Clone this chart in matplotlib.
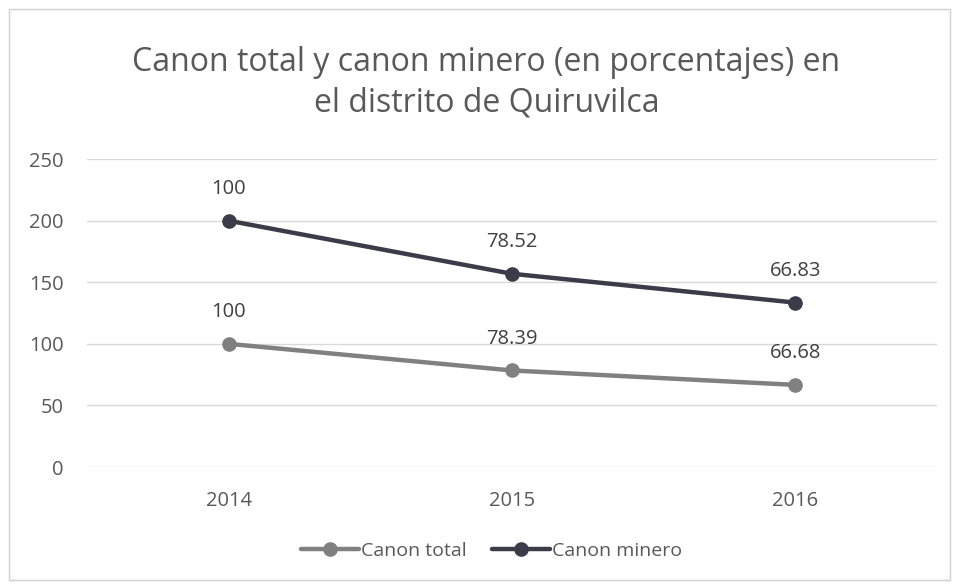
import numpy as np
import matplotlib.pyplot as plt
from matplotlib.patches import Rectangle

years = ["2014", "2015", "2016"]
canon_total = [100, 78.39, 66.68]
canon_minero = [100, 78.52, 66.83]
yticks = [0, 50, 100, 150, 200, 250]

plt.rcParams['font.family'] = ['Open Sans', 'DejaVu Sans']

fig = plt.figure(figsize=(9.54, 5.85), dpi=100)
fig.patches.append(Rectangle((0.009, 0.008), 0.987, 0.976, transform=fig.transFigure,
                             fill=False, edgecolor='#d0d0d0', linewidth=1))
ax = fig.add_axes([0.0912, 0.2017, 0.8908, 0.5263])

x = np.arange(len(years))
# stacked line chart: minero sits on top of total
stacked = np.array(canon_total) + np.array(canon_minero)

c_total = '#808080'
c_minero = '#3b3b4a'
ax.plot(x, canon_total, color=c_total, lw=3.2, marker='o', ms=9.5, label='Canon total',
        solid_capstyle='round', zorder=3)
ax.plot(x, stacked, color=c_minero, lw=3.2, marker='o', ms=9.5, label='Canon minero',
        solid_capstyle='round', zorder=3)

for xi, yv, lab in zip(x, canon_total, canon_total):
    ax.annotate(f"{lab:g}", (xi, yv), xytext=(0, 23), textcoords='offset points',
                ha='center', va='center', fontsize=14.5, color='#404040')
for xi, yv, lab in zip(x, stacked, canon_minero):
    ax.annotate(f"{lab:g}", (xi, yv), xytext=(0, 23), textcoords='offset points',
                ha='center', va='center', fontsize=14.5, color='#404040')

ax.set_xlim(-0.5, 2.5)
ax.set_ylim(0, 250)
ax.set_yticks(yticks)
ax.set_xticks(x)
ax.set_xticklabels(years)
ax.tick_params(axis='both', length=0, labelsize=14.5, labelcolor='#595959')
ax.tick_params(axis='y', pad=17)
ax.tick_params(axis='x', pad=17)
ax.grid(axis='y', color='#d9d9d9', linewidth=1)
ax.set_axisbelow(True)
for s in ax.spines.values():
    s.set_visible(False)

fig.text(0.51, 0.858, "Canon total y canon minero (en porcentajes) en\nel distrito de Quiruvilca",
         ha='center', va='center', fontsize=23, color='#595959', linespacing=1.3)

fig.legend(loc='center', bbox_to_anchor=(0.515, 0.058), ncol=2, frameon=False,
           fontsize=14, handlelength=3, columnspacing=1.3, handletextpad=0.1,
           labelcolor='#595959')

fig.savefig("out.png", dpi=100)
